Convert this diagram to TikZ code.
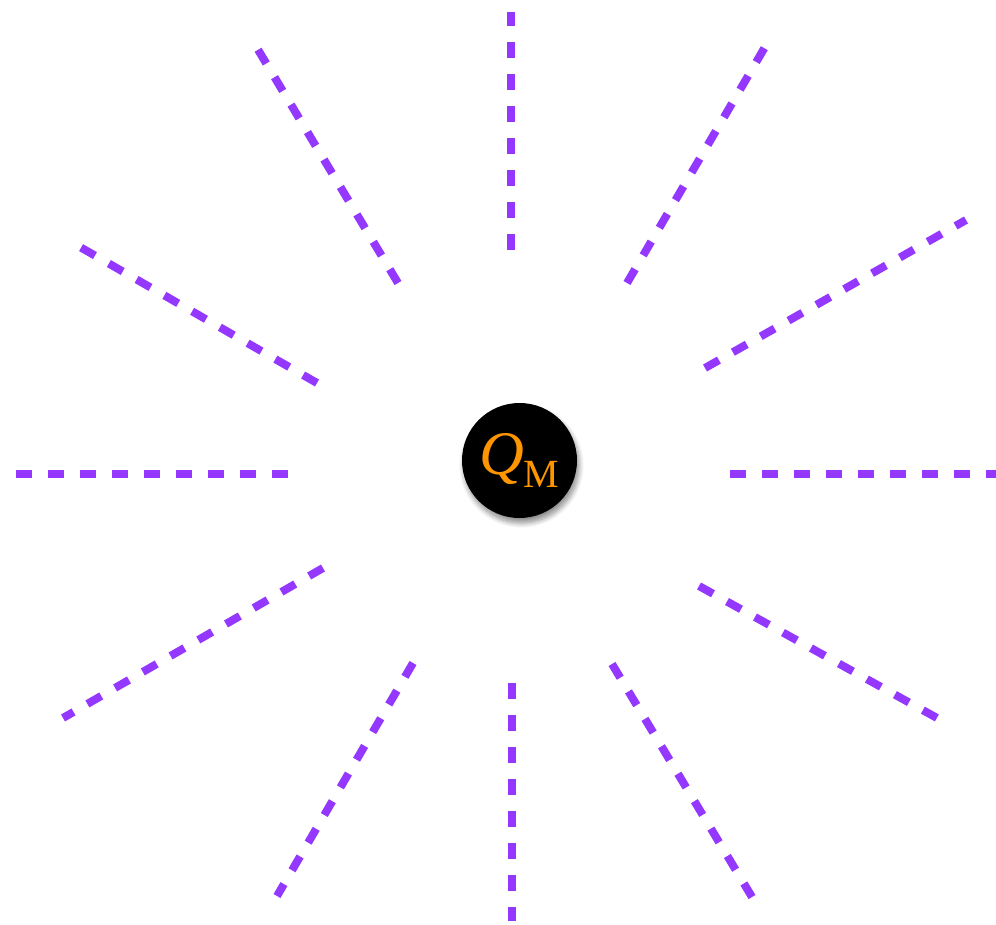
\documentclass[tikz,border=0pt]{standalone}
\usepackage{fontspec}
\newfontfamily\tnr{Liberation Serif}
\usetikzlibrary{shadows.blur}
\definecolor{ray}{RGB}{148,56,255}
\definecolor{qorange}{RGB}{255,150,0}
\tikzset{
  rayline/.style={draw=ray, line width=8pt, dash pattern=on 16pt off 16pt},
  charge/.style={circle, fill=black, minimum size=115pt, inner sep=0pt,
    blur shadow={shadow xshift=2pt, shadow yshift=-5pt, shadow blur steps=8, shadow opacity=45, shadow blur radius=5pt}},
  qtext/.style={text=qorange, inner sep=0pt, anchor=base west}
}
\begin{document}
\begin{tikzpicture}[x=1pt,y=-1pt]
\useasboundingbox (0,0) rectangle (996,925);
% ray end points (inner, outer)
\coordinate (i0) at (730,474);  \coordinate (o0) at (1000,474);
\coordinate (i30) at (705,368); \coordinate (o30) at (966,220);
\coordinate (i60) at (627,283); \coordinate (o60) at (765,47);
\coordinate (i90) at (511,250); \coordinate (o90) at (511,12);
\coordinate (i120) at (398,283); \coordinate (o120) at (257,48);
\coordinate (i150) at (317,383); \coordinate (o150) at (80,247);
\coordinate (i180) at (288,474); \coordinate (o180) at (15,474);
\coordinate (i210) at (323,568); \coordinate (o210) at (63,718);
\coordinate (i240) at (413,663); \coordinate (o240) at (277,896);
\coordinate (i270) at (512,683); \coordinate (o270) at (512,921);
\coordinate (i300) at (612,664); \coordinate (o300) at (752,897);
\coordinate (i330) at (699,586); \coordinate (o330) at (937,718);
\foreach \a in {0,30,...,330}{
  \draw[rayline] (i\a) -- (o\a);
}
\node[charge] (qm) at (519.5,460.5) {};
\node[qtext] (qlabel) at (479,474) {\tnr\fontsize{62}{64}\selectfont\itshape Q\raisebox{-13pt}{\upshape\fontsize{40}{40}\selectfont M}};
\end{tikzpicture}
\end{document}
